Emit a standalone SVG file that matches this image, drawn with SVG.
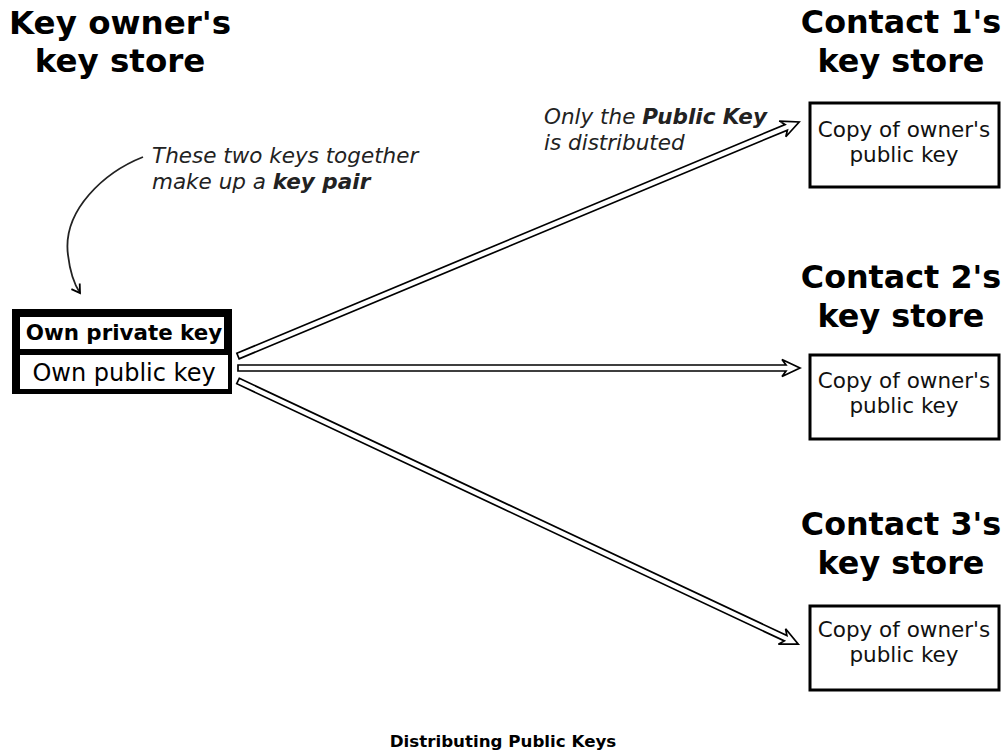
<svg xmlns="http://www.w3.org/2000/svg" width="1006" height="754" viewBox="0 0 1006 754">
<defs>
<style>
text{font-family:"DejaVu Sans","Liberation Sans",sans-serif;fill:#000}
.hdr{font-size:32.5px;font-weight:bold;text-anchor:middle}
.chdr{font-size:31.8px}
.box{fill:#fff;stroke:#000;stroke-width:3}
.bt{font-size:21.5px;text-anchor:middle;fill:#111}
.ann{font-size:21.5px;font-style:italic;fill:#222}
.arr{fill:#fff;stroke:#000;stroke-width:1.7;stroke-linejoin:miter}
</style>
<marker id="openv" viewBox="0 0 12 12" refX="10" refY="6" markerWidth="12" markerHeight="12" markerUnits="userSpaceOnUse" orient="auto">
<path d="M2,1 L10,6 L2,11" fill="none" stroke="#000" stroke-width="1.8"/>
</marker>
</defs>
<rect width="1006" height="754" fill="#fff"/>

<g id="owner">
<text class="hdr" x="120" y="34">Key owner's</text>
<text class="hdr" x="120" y="72">key store</text>
<rect x="12" y="309" width="220" height="85" fill="#000"/>
<rect x="20" y="317" width="204" height="32" fill="#fff"/>
<rect x="20" y="355" width="208" height="34" fill="#fff"/>
<text x="124" y="340" font-size="21.4" font-weight="bold" text-anchor="middle">Own private key</text>
<text x="124" y="381" font-size="24" text-anchor="middle" fill="#111">Own public key</text>
</g>

<g id="contact1">
<text class="hdr chdr" x="901" y="33">Contact 1's</text>
<text class="hdr chdr" x="901" y="72">key store</text>
<rect class="box" x="810" y="103" width="189" height="84"/>
<text class="bt" x="904" y="137">Copy of owner's</text>
<text class="bt" x="904" y="162">public key</text>
</g>

<g id="contact2">
<text class="hdr chdr" x="901" y="288">Contact 2's</text>
<text class="hdr chdr" x="901" y="327">key store</text>
<rect class="box" x="810" y="355" width="189" height="84"/>
<text class="bt" x="904" y="388">Copy of owner's</text>
<text class="bt" x="904" y="413">public key</text>
</g>

<g id="contact3">
<text class="hdr chdr" x="901" y="535">Contact 3's</text>
<text class="hdr chdr" x="901" y="574">key store</text>
<rect class="box" x="810" y="606" width="189" height="84"/>
<text class="bt" x="904" y="637">Copy of owner's</text>
<text class="bt" x="904" y="662">public key</text>
</g>

<g id="annotation-keypair">
<text class="ann" x="152" y="163">These two keys together</text>
<text class="ann" x="152" y="189">make up a <tspan font-weight="bold">key pair</tspan></text>
</g>

<g id="annotation-public">
<text class="ann" x="544" y="124">Only the <tspan font-weight="bold">Public Key</tspan></text>
<text class="ann" x="544" y="150">is distributed</text>
</g>

<g id="connectors">
<path d="M143,157 C105,172 62,210 68,255 C70,272 74,284 80,293" fill="none" stroke="#222" stroke-width="1.8" marker-end="url(#openv)"/>
<g transform="translate(238,356) rotate(-22.64)">
<polygon class="arr" points="0,-3 594,-3 590,-8.5 608,0 590,8.5 594,3 0,3"/>
</g>
<g transform="translate(238,368)">
<polygon class="arr" points="0,-3 548,-3 544,-8.5 562,0 544,8.5 548,3 0,3"/>
</g>
<g transform="translate(238,381) rotate(25.16)">
<polygon class="arr" points="0,-3 605,-3 601,-8.5 619,0 601,8.5 605,3 0,3"/>
</g>
</g>

<text x="503" y="747" font-size="16.7" font-weight="bold" text-anchor="middle">Distributing Public Keys</text>
</svg>
